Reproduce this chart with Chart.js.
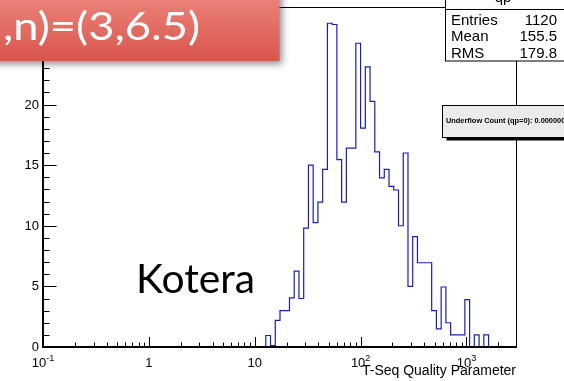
<!DOCTYPE html>
<html>
<head>
<meta charset="utf-8">
<script src="https://cdn.jsdelivr.net/npm/chart.js"></script>
<style>
  html, body { margin: 0; padding: 0; background: #fff; }
  canvas { display: block; }
</style>
</head>
<body>
<canvas id="hist" width="564" height="381"></canvas>
<script>
// qp histogram: nBins log-spaced bins between xMin and xMax
const xMin = 0.1;
const xMax = 3000;
const nBins = 100;
const firstBin = 47;   // first filled bin, everything before is empty
const binCounts = [
  0.95, 0.12, 2.2, 3.0, 3.0, 4.05, 6.25, 4.0, 9.8, 15.0,
  10.25, 11.95, 14.65, 26.7, 26.6, 15.45, 11.95, 16.4, 16.4, 25.05,
  18.05, 23.1, 20.25, 16.1, 13.95, 14.65, 13.25, 12.95, 10.0, 16.0,
  5.0, 9.1, 6.95, 6.95, 6.95, 3.0, 1.5, 4.95, 2.0, 1.0,
  1.0, 1.0, 3.9, 0, 1.0, 0, 1.0
];

const yMax = 28;
const yMajorStep = 5;
const xDecades = [0.1, 1, 10, 100, 1000];
const xDecadeLabels = [['10', '-1'], ['1', ''], ['10', ''], ['10', '2'], ['10', '3']];
const xTitle = 'T-Seq Quality Parameter';

const statTitle = 'qp';
const statNames = ['Entries', 'Mean', 'RMS'];
const statValues = ['1120', '155.5', '179.8'];
const underflowText = 'Underflow Count (qp=0): 0.000000';
const bannerText = ',n)=(3,6.5)';
const noteText = 'Kotera';

const logStep = (Math.log10(xMax) - Math.log10(xMin)) / nBins;
function binEdge(i) {
  return Math.pow(10, Math.log10(xMin) + i * logStep);
}

// outline of the histogram as a stepped line
const outline = [{x: binEdge(firstBin), y: 0}];
binCounts.forEach((c, k) => outline.push({x: binEdge(firstBin + k), y: c}));
outline.push({x: binEdge(firstBin + binCounts.length), y: 0});

const ROOT_FONT = '"Liberation Sans", Arial, Helvetica, sans-serif';

function fitText(ctx, text, x, y, size, width, family) {
  ctx.font = size + 'px ' + family;
  const w = ctx.measureText(text).width;
  ctx.save();
  ctx.translate(x, y);
  ctx.scale(width / w, 1);
  ctx.fillText(text, 0, 0);
  ctx.restore();
}

const rootFrame = {
  id: 'rootFrame',
  afterDraw(chart) {
    const ctx = chart.ctx;
    const xs = chart.scales.x;
    const ys = chart.scales.y;
    const a = chart.chartArea;
    ctx.save();
    ctx.strokeStyle = '#000';
    ctx.fillStyle = '#000';

    // frame
    ctx.lineWidth = 1;
    ctx.beginPath();
    ctx.moveTo(a.left, a.top);
    ctx.lineTo(a.right - 0.5, a.top);
    ctx.lineTo(a.right - 0.5, a.bottom);
    ctx.stroke();
    ctx.lineWidth = 2;
    ctx.beginPath();
    ctx.moveTo(a.left, a.top);
    ctx.lineTo(a.left, a.bottom);
    ctx.lineTo(a.right, a.bottom);
    ctx.stroke();

    // y ticks
    ctx.lineWidth = 1;
    ctx.beginPath();
    for (let v = 1; v < yMax; v++) {
      const py = Math.round(ys.getPixelForValue(v)) + 0.5;
      const len = v % yMajorStep === 0 ? 13.5 : 6.5;
      ctx.moveTo(a.left, py);
      ctx.lineTo(a.left + len, py);
    }
    // x ticks
    xDecades.forEach(d => {
      for (let m = 1; m <= 9; m++) {
        const v = d * m;
        if (v <= xMin || v >= xMax) continue;
        const px = Math.round(xs.getPixelForValue(v)) + 0.5;
        ctx.moveTo(px, a.bottom);
        ctx.lineTo(px, a.bottom - (m === 1 ? 10 : 4.5));
      }
    });
    ctx.stroke();

    // y labels
    ctx.font = '13px ' + ROOT_FONT;
    ctx.textAlign = 'right';
    ctx.textBaseline = 'middle';
    for (let v = 0; v < yMax; v += yMajorStep) {
      ctx.fillText(String(v), a.left - 4, ys.getPixelForValue(v) + 0.5);
    }

    // x labels with exponents
    ctx.textBaseline = 'alphabetic';
    ctx.textAlign = 'left';
    xDecades.forEach((d, i) => {
      const [base, exp] = xDecadeLabels[i];
      ctx.font = '13px ' + ROOT_FONT;
      const wb = ctx.measureText(base).width;
      ctx.font = '9px ' + ROOT_FONT;
      const we = exp ? ctx.measureText(exp).width : 0;
      const x0 = xs.getPixelForValue(d) - (wb + we) / 2;
      ctx.font = '13px ' + ROOT_FONT;
      ctx.fillText(base, x0, 367);
      if (exp) {
        ctx.font = '9px ' + ROOT_FONT;
        ctx.fillText(exp, x0 + wb, 360.5);
      }
    });

    // axis title
    ctx.font = '14px ' + ROOT_FONT;
    ctx.textAlign = 'right';
    ctx.fillText(xTitle, a.right - 1, 375);

    // statistics box
    ctx.fillStyle = '#fff';
    ctx.fillRect(445.5, -5, 130, 66);
    ctx.strokeRect(445.5, -5, 130, 66);
    ctx.beginPath();
    ctx.moveTo(445.5, 9.5);
    ctx.lineTo(564, 9.5);
    ctx.stroke();
    ctx.fillStyle = '#000';
    ctx.font = '15px ' + ROOT_FONT;
    ctx.textAlign = 'center';
    ctx.fillText(statTitle, 503, 1.5);
    statNames.forEach((name, i) => {
      const by = 24.5 + i * 16.5;
      ctx.textAlign = 'left';
      ctx.fillText(name, 451, by);
      ctx.textAlign = 'right';
      ctx.fillText(statValues[i], 557, by);
    });

    // underflow box with drop shadow
    ctx.fillRect(446.5, 137, 130, 3.5);
    ctx.fillStyle = '#ebebeb';
    ctx.fillRect(442.5, 105.5, 130, 32);
    ctx.strokeRect(442.5, 105.5, 130, 32);
    ctx.fillStyle = '#000';
    ctx.font = 'bold 7.4px ' + ROOT_FONT;
    ctx.textAlign = 'left';
    ctx.fillText(underflowText, 446, 123);

    // note
    ctx.fillStyle = '#000';
    fitText(ctx, noteText, 136, 292.5, 40, 119, 'Lato, "Open Sans", sans-serif');

    // red banner
    ctx.save();
    ctx.shadowColor = 'rgba(0,0,0,0.45)';
    ctx.shadowBlur = 7;
    ctx.shadowOffsetX = 2;
    ctx.shadowOffsetY = 3;
    const g = ctx.createLinearGradient(0, 0, 0, 61);
    g.addColorStop(0, '#eb8078');
    g.addColorStop(1, '#d8564c');
    ctx.fillStyle = g;
    ctx.fillRect(-20, -20, 299.5, 81);
    ctx.restore();
    ctx.fillStyle = '#fff';
    ctx.textAlign = 'left';
    fitText(ctx, bannerText, 3, 39.5, 38, 197, 'Lato, "Open Sans", sans-serif');

    ctx.restore();
  }
};

new Chart(document.getElementById('hist'), {
  type: 'scatter',
  data: {
    datasets: [{
      data: outline,
      showLine: true,
      stepped: 'before',
      borderColor: '#1c1cb8',
      borderWidth: 1.2,
      pointRadius: 0,
      fill: false
    }]
  },
  options: {
    responsive: false,
    animation: false,
    devicePixelRatio: 1,
    layout: { padding: { left: 43, right: 47, top: 7.5, bottom: 34 } },
    plugins: { legend: { display: false }, tooltip: { enabled: false } },
    scales: {
      x: { type: 'logarithmic', min: xMin, max: xMax, display: false },
      y: { type: 'linear', min: 0, max: yMax, display: false }
    }
  },
  plugins: [rootFrame]
});
</script>
</body>
</html>
